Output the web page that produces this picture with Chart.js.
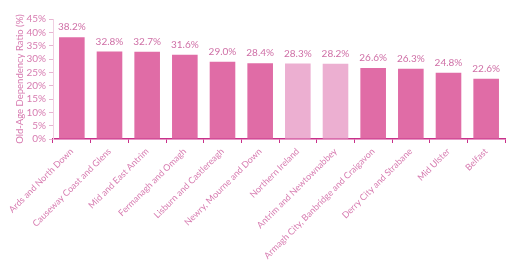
<!DOCTYPE html>
<html><head><meta charset="utf-8">
<script src="https://cdn.jsdelivr.net/npm/chart.js@4/dist/chart.umd.min.js"></script>
<style>html,body{margin:0;padding:0;background:#fff}#w{width:519px;height:264px}</style>
</head><body><div id="w"><canvas id="c"></canvas></div>
<script>
const categories = ["Ards and North Down","Causeway Coast and Glens","Mid and East Antrim","Fermanagh and Omagh","Lisburn and Castlereagh","Newry, Mourne and Down","Northern Ireland","Antrim and Newtownabbey","Armagh City, Banbridge and Craigavon","Derry City and Strabane","Mid Ulster","Belfast"];
const ratios = [38.2,32.8,32.7,31.6,29.0,28.4,28.3,28.2,26.6,26.3,24.8,22.6];
const highlighted = ["Northern Ireland","Antrim and Newtownabbey"];
const yTicks = [0,5,10,15,20,25,30,35,40,45];

const textCol = '#d77bb0';
const dataLabels = {
  id:'dl',
  afterDatasetsDraw(chart){
    const ctx=chart.ctx; const meta=chart.getDatasetMeta(0);
    ctx.save(); ctx.font='10px Lato'; ctx.fillStyle='#cf6fa6';
    ctx.textAlign='center'; ctx.textBaseline='bottom';
    meta.data.forEach((b,i)=>{ ctx.fillText(ratios[i].toFixed(1)+'%', b.x, b.y-5); });
    ctx.restore();
  }
};
new Chart(document.getElementById('c'),{
  type:'bar',
  data:{labels:categories,datasets:[{data:ratios,
    backgroundColor:categories.map(c=>highlighted.includes(c)?'#ecafd1':'#e06ca6'),
    categoryPercentage:0.68,barPercentage:1}]},
  options:{responsive:true,maintainAspectRatio:false,animation:false,
    layout:{padding:{top:19,right:14,left:14,bottom:0}},
    plugins:{legend:{display:false},tooltip:{enabled:false}},
    scales:{
      x:{grid:{display:true,drawOnChartArea:false,drawTicks:true,tickLength:4,color:'#c9308a',offset:true},
        border:{display:true,color:'#c9308a',width:1.5},
        ticks:{color:textCol,font:{size:9,family:'Lato'},maxRotation:45,minRotation:45,padding:3,autoSkip:false},
        afterFit(s){s.height=125;}},
      y:{min:0,max:45,
        grid:{display:true,drawOnChartArea:false,tickLength:4,color:'#e8b4d2'},
        border:{display:true,color:'#f0d0e2'},
        afterBuildTicks(s){s.ticks=yTicks.map(v=>({value:v}));},
        ticks:{color:textCol,font:{size:10,family:'Lato'},padding:3,callback:v=>v+'%',autoSkip:false},
        title:{display:true,text:'Old-Age Dependency Ratio (%)',color:textCol,font:{size:9.5,family:'Lato'},padding:{top:0,bottom:2}},
        afterFit(s){s.width=39;}}
    }}
  ,plugins:[dataLabels]
});
</script></body></html>
